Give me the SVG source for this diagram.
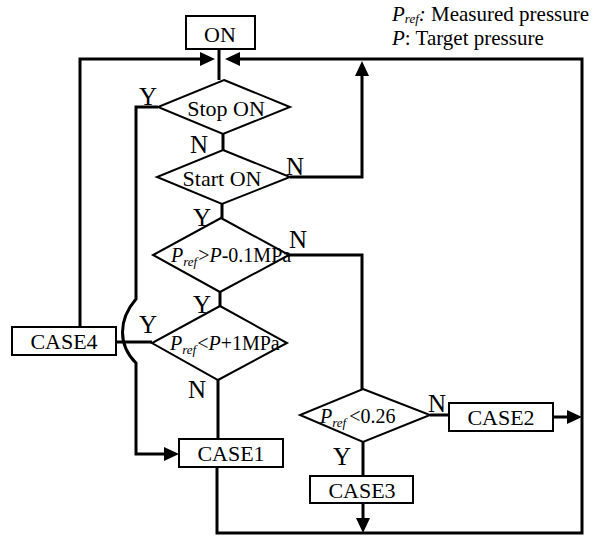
<svg xmlns="http://www.w3.org/2000/svg" width="599" height="537" viewBox="0 0 599 537">
<style>
text{font-family:"Liberation Serif","Times New Roman",serif;fill:#000}
.box{fill:#fff;stroke:#000;stroke-width:2}
.dia{fill:#fff;stroke:#000;stroke-width:2}
.c{fill:none;stroke:#000;stroke-width:3}
.lbl{font-size:25px}
.t{font-size:22px;text-anchor:middle}
.f{font-size:20px}
.i{font-style:italic}
.s{font-size:13px;font-style:italic}
</style>
<defs>
<marker id="ah" markerUnits="userSpaceOnUse" markerWidth="16" markerHeight="14" refX="0" refY="7" orient="auto">
<path d="M0,0 L15,7 L0,14 z" fill="#000"/>
</marker>
</defs>
<rect width="599" height="537" fill="#fff"/>

<g id="connectors">
<path class="c" d="M219,49 V80"/>
<path class="c" d="M223,134 V150"/>
<path class="c" d="M290,177 H362 V76" marker-end="url(#ah)"/>
<path class="c" d="M217,467 V533 H582 V59 H240" marker-end="url(#ah)"/>
<path class="c" d="M80,327 V59 H200" marker-end="url(#ah)"/>
<path class="c" d="M158,107 H136 V299 C118,320 118,345 136,363 V454 H164" marker-end="url(#ah)"/>
<path class="c" d="M222,204 V218"/>
<path class="c" d="M220,292 V306"/>
<path class="c" d="M289,255 H362 V389"/>
<path class="c" d="M152,342 H116"/>
<path class="c" d="M218,380 V439"/>
<path class="c" d="M430,415 H449"/>
<path class="c" d="M553,417 H567" marker-end="url(#ah)"/>
<path class="c" d="M363,442 V476"/>
<path class="c" d="M363,503 V518" marker-end="url(#ah)"/>
</g>

<g id="legend">
<text x="392" y="21" font-size="21"><tspan class="i">P</tspan><tspan class="s" font-size="11" dy="2">ref</tspan><tspan class="i" dy="-2">:</tspan> Measured pressure</text>
<text x="392" y="45" font-size="21"><tspan class="i">P</tspan>: Target pressure</text>
</g>

<g id="on">
<rect class="box" x="186" y="16" width="69" height="33"/>
<text class="t" x="220" y="42" font-size="23">ON</text>
</g>

<g id="stop">
<polygon class="dia" points="224,80 290,107 223,134 158,107"/>
<text class="t" x="226" y="116">Stop ON</text>
</g>

<g id="start">
<polygon class="dia" points="223,150 290,177 222,204 157,177"/>
<text class="t" x="222" y="186">Start ON</text>
</g>

<g id="cond1">
<polygon class="dia" points="221,218 289,255 220,292 153,255"/>
<text class="f" x="171" y="262"><tspan class="i">P</tspan><tspan class="s" dy="4">ref</tspan><tspan dy="-4" dx="1">&gt;</tspan><tspan class="i">P</tspan>-0.1MPa</text>
</g>

<g id="cond2">
<polygon class="dia" points="220,306 287,343 218,380 152,343"/>
<text class="f" x="170" y="350"><tspan class="i">P</tspan><tspan class="s" dy="4">ref</tspan><tspan dy="-4" dx="1">&lt;</tspan><tspan class="i">P</tspan>+1MPa</text>
</g>

<g id="cond3">
<polygon class="dia" points="363,389 430,415 363,442 300,415"/>
<text class="f" x="320" y="423"><tspan class="i">P</tspan><tspan class="s" dy="4">ref</tspan><tspan dy="-4" dx="3">&lt;0.26</tspan></text>
</g>

<g id="case1">
<rect class="box" x="179" y="439" width="104" height="28"/>
<text class="t" x="231" y="461" font-size="21">CASE1</text>
</g>
<g id="case2">
<rect class="box" x="449" y="403" width="104" height="28"/>
<text class="t" x="501" y="425" font-size="21">CASE2</text>
</g>
<g id="case3">
<rect class="box" x="310" y="476" width="103" height="27"/>
<text class="t" x="362" y="498" font-size="21">CASE3</text>
</g>
<g id="case4">
<rect class="box" x="12" y="327" width="104" height="28"/>
<text class="t" x="64" y="349" font-size="21">CASE4</text>
</g>

<g id="labels">
<text class="lbl" x="139" y="105">Y</text>
<text class="lbl" x="190" y="153">N</text>
<text class="lbl" x="286" y="175">N</text>
<text class="lbl" x="193" y="226">Y</text>
<text class="lbl" x="289" y="248">N</text>
<text class="lbl" x="193" y="313">Y</text>
<text class="lbl" x="139" y="333">Y</text>
<text class="lbl" x="188" y="398">N</text>
<text class="lbl" x="428" y="412">N</text>
<text class="lbl" x="333" y="465">Y</text>
</g>
</svg>
